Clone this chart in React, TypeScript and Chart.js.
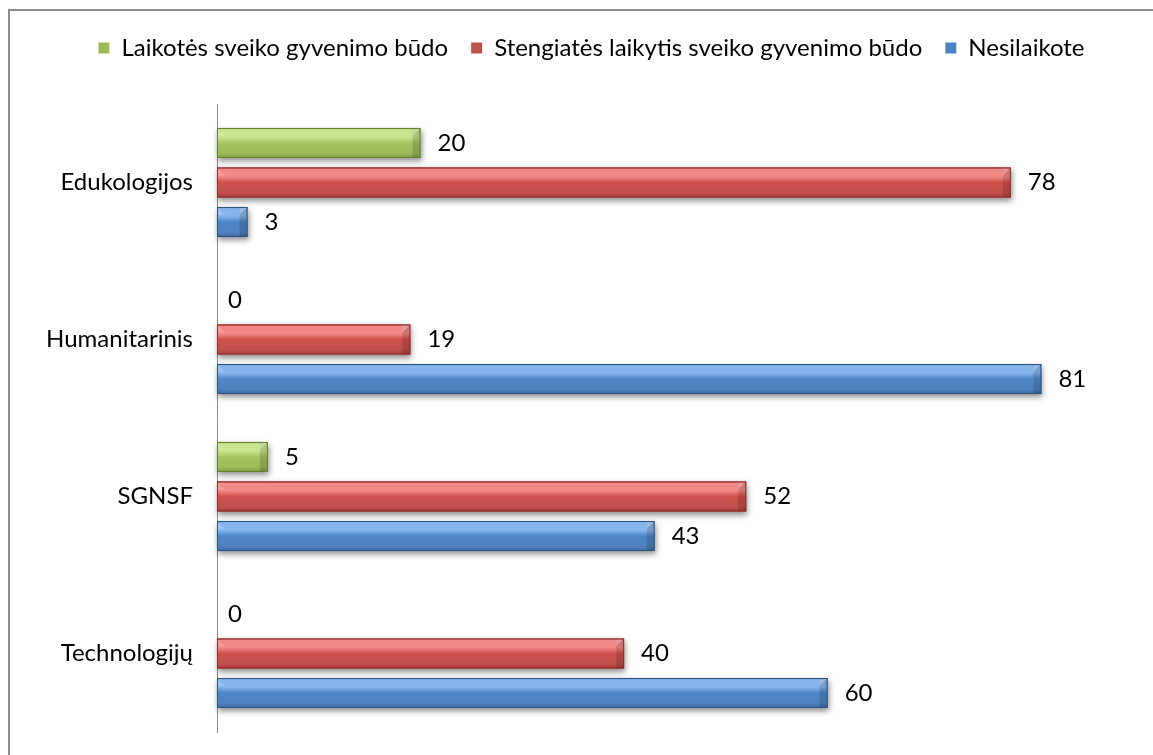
import React, { useEffect, useRef } from "react";
import { Chart, registerables } from "chart.js";

Chart.register(...registerables);

const categories = ["Edukologijos", "Humanitarinis", "SGNSF", "Technologijų"];
const seriesNames = [
  "Laikotės sveiko gyvenimo būdo",
  "Stengiatės laikytis sveiko gyvenimo būdo",
  "Nesilaikote",
];
const laikotes = [20, 0, 5, 0];
const stengiates = [78, 19, 52, 40];
const nesilaikote = [3, 81, 43, 60];

const FONT = "Lato";
const FONT_SIZE = 24;

const palettes = [
  { base: "#9BBB59", light: "#C9E38F", mid: "#A5C563", dark: "#7A9A3E", edge: "#647F30" },
  { base: "#C0504D", light: "#F28985", mid: "#D2504C", dark: "#A83A36", edge: "#8A2E2B" },
  { base: "#4F81BD", light: "#86B5EE", mid: "#4F86C6", dark: "#3A69A3", edge: "#2D5282" },
];

const framePlugin = {
  id: "frame",
  beforeDraw(chart: any) {
    const ctx = chart.ctx;
    ctx.save();
    ctx.fillStyle = "#ffffff";
    ctx.fillRect(0, 0, chart.width, chart.height);
    ctx.strokeStyle = "#8c8c8c";
    ctx.lineWidth = 2;
    ctx.beginPath();
    ctx.moveTo(9, chart.height);
    ctx.lineTo(9, 10);
    ctx.lineTo(chart.width, 10);
    ctx.stroke();
    ctx.restore();
  },
};

const legendShiftPlugin = {
  id: "legendShift",
  afterLayout(chart: any) {
    const lg = chart.legend;
    if (lg) {
      lg.left += 50;
      lg.right += 0;
    }
  },
};

const barStylePlugin = {
  id: "barStyle",
  beforeDatasetsDraw(chart: any) {
    const ctx = chart.ctx;
    chart.data.datasets.forEach((_ds: any, di: number) => {
      const meta = chart.getDatasetMeta(di);
      meta.data.forEach((el: any) => {
        const p = el.getProps(["x", "y", "base", "height"], true);
        const left = Math.min(p.x, p.base);
        const w = Math.abs(p.x - p.base);
        if (w < 1) return;
        const top = p.y - p.height / 2;
        ctx.save();
        ctx.shadowColor = "rgba(0,0,0,0.45)";
        ctx.shadowBlur = 6;
        ctx.shadowOffsetY = 3;
        ctx.shadowOffsetX = 1;
        ctx.fillStyle = "#ffffff";
        ctx.fillRect(left, top, w, p.height);
        ctx.restore();
      });
    });
  },
  afterDatasetsDraw(chart: any) {
    const ctx = chart.ctx;
    chart.data.datasets.forEach((ds: any, di: number) => {
      const meta = chart.getDatasetMeta(di);
      const pal = palettes[di];
      meta.data.forEach((el: any, i: number) => {
        const p = el.getProps(["x", "y", "base", "height"], true);
        const left = Math.min(p.x, p.base);
        const right = Math.max(p.x, p.base);
        const w = right - left;
        const top = p.y - p.height / 2;
        const bot = p.y + p.height / 2;
        const h = p.height;
        if (w >= 1) {
          ctx.save();
          const g = ctx.createLinearGradient(0, top, 0, bot);
          g.addColorStop(0, pal.mid);
          g.addColorStop(0.06, pal.light);
          g.addColorStop(0.3, pal.light);
          g.addColorStop(0.5, pal.mid);
          g.addColorStop(0.85, pal.base);
          g.addColorStop(1, pal.dark);
          ctx.fillStyle = g;
          ctx.fillRect(left, top, w, h);
          // right bevel
          const bv = Math.min(8, w / 2);
          ctx.fillStyle = "rgba(0,0,0,0.14)";
          ctx.fillRect(right - bv, top, bv, h);
          ctx.fillStyle = "rgba(255,255,255,0.3)";
          ctx.beginPath();
          ctx.moveTo(right - bv, top + bv);
          ctx.lineTo(right, top);
          ctx.lineTo(right - bv, top);
          ctx.closePath();
          ctx.fill();
          // left bevel
          ctx.fillStyle = "rgba(255,255,255,0.18)";
          ctx.beginPath();
          ctx.moveTo(left, top);
          ctx.lineTo(left + bv, top + bv);
          ctx.lineTo(left, top + bv);
          ctx.closePath();
          ctx.fill();
          ctx.strokeStyle = pal.edge;
          ctx.lineWidth = 1;
          ctx.strokeRect(left + 0.5, top + 0.5, w - 1, h - 1);
          ctx.restore();
        }
        // value label
        const v = ds.data[i];
        ctx.save();
        ctx.font = `${FONT_SIZE}px ${FONT}`;
        ctx.fillStyle = "#000000";
        ctx.textAlign = "left";
        ctx.textBaseline = "middle";
        ctx.fillText(String(v), right + (w >= 1 ? 17 : 11), p.y);
        ctx.restore();
      });
    });
  },
};

export default function App() {
  const ref = useRef<HTMLCanvasElement | null>(null);
  useEffect(() => {
    document.body.style.overflow = "hidden";
    const chart = new Chart(ref.current as HTMLCanvasElement, {
      type: "bar",
      data: {
        labels: categories,
        datasets: [
          { label: seriesNames[0], data: laikotes, backgroundColor: palettes[0].base, borderColor: palettes[0].edge, borderWidth: 0 },
          { label: seriesNames[1], data: stengiates, backgroundColor: palettes[1].base, borderColor: palettes[1].edge, borderWidth: 0 },
          { label: seriesNames[2], data: nesilaikote, backgroundColor: palettes[2].base, borderColor: palettes[2].edge, borderWidth: 0 },
        ],
      },
      options: {
        indexAxis: "y",
        animation: false,
        responsive: true,
        maintainAspectRatio: false,
        categoryPercentage: 0.755,
        barPercentage: 0.76,
        layout: { padding: { left: 0, right: 20, top: 13, bottom: 23 } },
        plugins: {
          tooltip: { enabled: false },
          legend: {
            position: "top",
            labels: {
              boxWidth: 11,
              boxHeight: 11,
              padding: 23,
              color: "#000000",
              font: { family: FONT, size: FONT_SIZE },
            },
          },
        },
        scales: {
          x: {
            position: "top",
            min: 0,
            max: 90,
            display: true,
            grid: { display: false },
            border: { display: false },
            ticks: { display: false },
            afterFit: (s: any) => {
              s.height = 34;
            },
          },
          y: {
            grid: { display: false, drawTicks: false },
            border: { display: true, color: "#8c8c8c", width: 1 },
            ticks: { color: "#000000", padding: 24, font: { family: FONT, size: FONT_SIZE } },
            afterFit: (s: any) => {
              s.width = 217;
              s.paddingTop = 0;
              s.paddingBottom = 0;
            },
          },
        },
      } as any,
      plugins: [framePlugin, legendShiftPlugin, barStylePlugin],
    });
    return () => chart.destroy();
  }, []);
  return (
    <div style={{ position: "fixed", left: 0, top: 0, width: 1153, height: 755 }}>
      <canvas ref={ref} />
    </div>
  );
}
